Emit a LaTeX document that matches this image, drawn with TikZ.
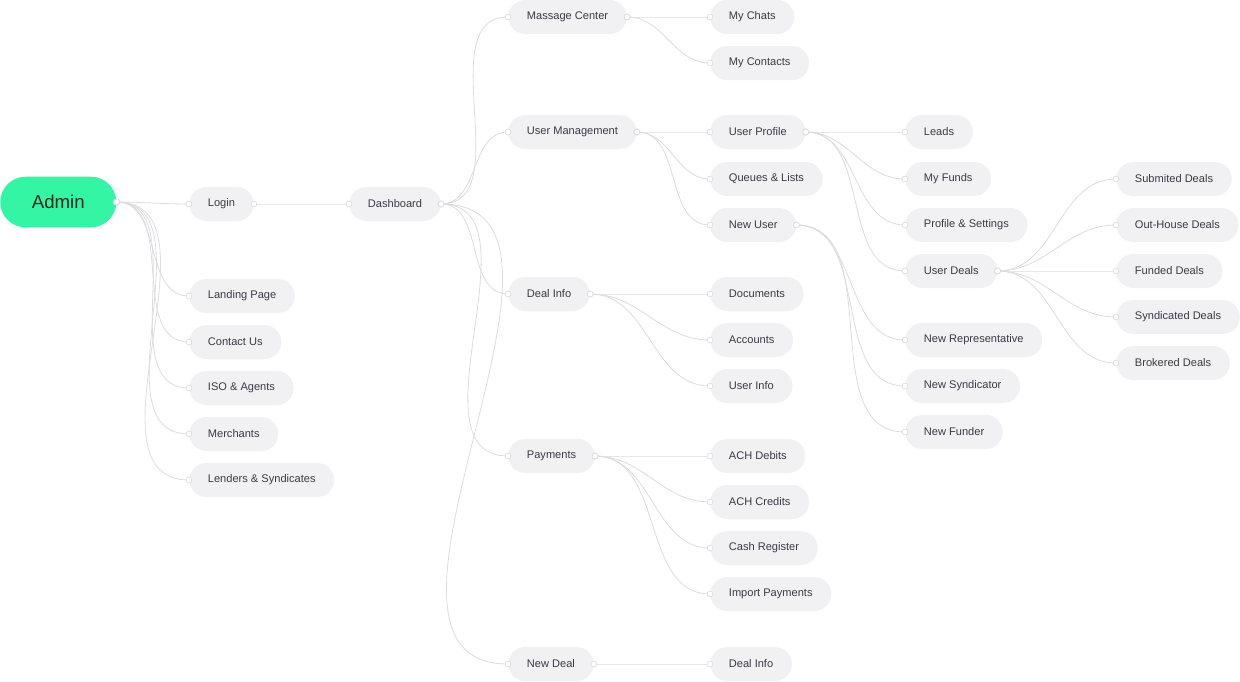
\documentclass[tikz,border=0pt]{standalone}
\usepackage{fontspec}
\setmainfont{Liberation Sans}
\definecolor{pill}{HTML}{F1F1F3}
\definecolor{ink}{HTML}{3A3A45}
\definecolor{wire}{HTML}{DCDCE0}
\definecolor{mint}{HTML}{34F5A4}
\tikzset{
  item/.style={anchor=west, fill=pill, text=ink, rounded corners=12.7pt,
    minimum height=25.5pt, inner xsep=14pt, font=\fontsize{8.3}{9}\selectfont},
  root/.style={anchor=west, fill=mint, text=black!85, rounded corners=19pt,
    minimum height=38pt, minimum width=87pt, font=\fontsize{14}{16}\selectfont},
  link/.style={wire, line width=0.6pt},
  dot/.style={draw=wire, fill=white, line width=0.5pt}
}
\newcommand{\conn}[2]{%
  \draw[link] (#1.east) to[out=0,in=180] (#2.west);
  \fill[dot] (#1.east) circle (2.2pt);
  \fill[dot] (#2.west) circle (2.2pt);}
\begin{document}
\begin{tikzpicture}[x=0.75pt,y=-0.75pt]
    \useasboundingbox (0,0) rectangle (1240,682);

    % Root and first level
    \node[root] (admin) at (0,202) {Admin};
    \node[item] (login) at (189,204) {Login};
    \node[item] (dash) at (349,204) {Dashboard};
    \node[item] (landing) at (189,296) {Landing Page};
    \node[item] (contact) at (189,342) {Contact Us};
    \node[item] (iso) at (189,388) {ISO \& Agents};
    \node[item] (merch) at (189,434) {Merchants};
    \node[item] (lenders) at (189,480) {Lenders \& Syndicates};

    % Dashboard sections
    \node[item] (msg) at (508,17) {Massage Center};
    \node[item] (users) at (508,132) {User Management};
    \node[item] (deal) at (508,294) {Deal Info};
    \node[item] (pay) at (508,456) {Payments};
    \node[item] (newdeal) at (508,664) {New Deal};

    % Third level
    \node[item] (chats) at (710,17) {My Chats};
    \node[item] (contacts) at (710,63) {My Contacts};
    \node[item] (profile) at (710,132) {User Profile};
    \node[item] (queues) at (710,179) {Queues \& Lists};
    \node[item] (newuser) at (710,225) {New User};
    \node[item] (docs) at (710,294) {Documents};
    \node[item] (accts) at (710,340) {Accounts};
    \node[item] (uinfo) at (710,386) {User Info};
    \node[item] (debits) at (710,456) {ACH Debits};
    \node[item] (credits) at (710,502) {ACH Credits};
    \node[item] (cash) at (710,548) {Cash Register};
    \node[item] (import) at (710,594) {Import Payments};
    \node[item] (dinfo) at (710,664) {Deal Info};

    % Fourth level
    \node[item] (leads) at (905,132) {Leads};
    \node[item] (funds) at (905,179) {My Funds};
    \node[item] (settings) at (905,225) {Profile \& Settings};
    \node[item] (udeals) at (905,271) {User Deals};
    \node[item] (rep) at (905,340) {New Representative};
    \node[item] (synd) at (905,386) {New Syndicator};
    \node[item] (funder) at (905,432) {New Funder};

    % Fifth level
    \node[item] (submit) at (1116,179) {Submited Deals};
    \node[item] (outh) at (1116,225) {Out-House Deals};
    \node[item] (funded) at (1116,271) {Funded Deals};
    \node[item] (syndd) at (1116,317) {Syndicated Deals};
    \node[item] (broker) at (1116,363) {Brokered Deals};

    % Connectors
    \foreach \a/\b in {admin/login, admin/landing, admin/contact, admin/iso,
        admin/merch, admin/lenders, login/dash,
        dash/msg, dash/users, dash/deal, dash/pay, dash/newdeal,
        msg/chats, msg/contacts, users/profile, users/queues, users/newuser,
        deal/docs, deal/accts, deal/uinfo,
        pay/debits, pay/credits, pay/cash, pay/import, newdeal/dinfo,
        profile/leads, profile/funds, profile/settings, profile/udeals,
        newuser/rep, newuser/synd, newuser/funder,
        udeals/submit, udeals/outh, udeals/funded, udeals/syndd, udeals/broker}
        \conn{\a}{\b};
\end{tikzpicture}
\end{document}
